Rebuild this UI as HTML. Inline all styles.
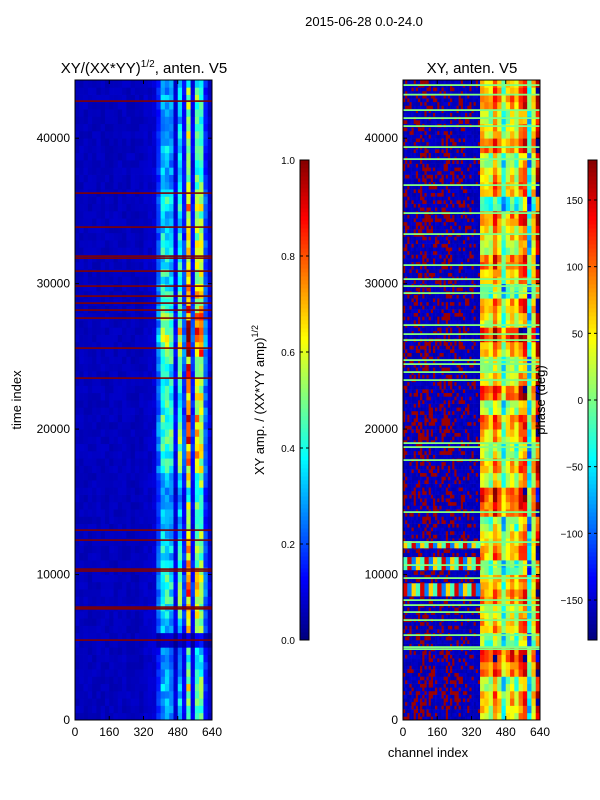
<!DOCTYPE html>
<html><head><meta charset="utf-8"><style>
body{margin:0;background:#fff;}
svg{display:block;font-family:"Liberation Sans",sans-serif;}
</style></head><body>
<svg id="fig" width="600" height="800" viewBox="0 0 600 800">
<rect width="600" height="800" fill="#fff"/>
<text x="364" y="26" font-size="13" text-anchor="middle">2015-06-28 0.0-24.0</text>
<text x="144" y="73" font-size="15" text-anchor="middle">XY/(XX*YY)<tspan font-size="10" dy="-6">1/2</tspan><tspan dy="6">, anten. V5</tspan></text>
<text x="472" y="73" font-size="15" text-anchor="middle">XY, anten. V5</text>
<g id="left"></g>
<g id="right"></g>
<g id="axes"></g>
<text transform="translate(21,400) rotate(-90)" font-size="13" text-anchor="middle">time index</text>
<text x="428" y="757" font-size="13" text-anchor="middle">channel index</text>
<text transform="translate(264,400) rotate(-90)" font-size="13" text-anchor="middle">XY amp. / (XX*YY amp)<tspan font-size="9" dy="-6">1/2</tspan></text>
<text transform="translate(545,400) rotate(-90)" font-size="13" text-anchor="middle">phase (deg)</text>
</svg>
<script>
const NS="http://www.w3.org/2000/svg";
// ---- data ----
const xTicks=[0,160,320,480,640];
const yTicks=[0,10000,20000,30000,40000];
const ampTicks=[0.0,0.2,0.4,0.6,0.8,1.0];
const phaseTicks=[-150,-100,-50,0,50,100,150];
// left: per-1000 time activity (t=0..43000)
const ampRowAct=[0.5,0.55,0.6,0.5,0.45,0.15,0.6,0.7,0.75,0.8,0.7,0.65,0.6,0.5,0.55,0.45,0.6,0.75,0.8,0.85,0.8,0.75,0.7,0.75,0.8,0.95,1.0,0.85,0.8,0.75,0.7,0.65,0.7,0.65,0.6,0.7,0.6,0.55,0.5,0.6,0.55,0.5,0.6,0.5];
// left: column profile, 20 channels each (32 cols)
const ampColProf=[0.06,0.06,0.06,0.06,0.06,0.06,0.06,0.06,0.06,0.06,0.06,0.06,0.06,0.06,0.06,0.06,0.07,0.07,0.08,0.3,0.55,0.55,0.5,0.15,0.6,0.25,0.95,0.2,0.8,0.8,0.3,0.12];
// left: red flag stripes (time index)
const ampStripes=[42556,36231,33894,31900,31762,30869,29838,29150,28669,28188,27638,25575,23512,13062,12375,10381,10250,7769,7650,5500];
// right: phase of right part per column (ch 360..640, 14 cols)
const phaseColBase=[60,40,20,90,50,-30,30,60,20,80,100,-60,40,150];
// right: per-1000 row shift
const phaseRowShift=[0,20,-30,45,75,-50,15,-20,35,10,-60,30,5,-40,50,70,-15,25,-45,10,40,-25,60,0,-35,20,80,-10,30,-55,15,45,-20,5,35,-75,25,0,-30,55,10,-15,40,20];
// right: red speckle fraction per column (ch 0..360, 36 cols of 10)
const phaseRedFrac=[0.3,0.3,0.25,0.2,0.2,0.25,0.3,0.35,0.4,0.45,0.45,0.4,0.35,0.3,0.25,0.2,0.2,0.25,0.3,0.35,0.4,0.35,0.3,0.25,0.2,0.25,0.3,0.3,0.25,0.2,0.2,0.2,0.15,0.15,0.1,0.1];
// right: green (zero-phase) stripes
const phaseStripes=[43656,43000,41937,41387,40837,39393,38568,36781,34856,33412,31281,30318,29837,29356,27156,26537,26125,24750,24475,23925,23375,19043,18768,17875,14300,12237,10656,9762,8250,7906,7425,6875,5843,5018,4881];
// right: full-width colored bands (time start, end)
const phaseBandStart=[11800,10300,8500];
const phaseBandEnd=[12300,11200,9400];
// ---- scales ----
const T0=0,T1=44000,Y0=720,Y1=80;
const yS=t=>Y0-(t-T0)/(T1-T0)*(Y0-Y1);
const xL=c=>75+c/640*137, xR=c=>403+c/640*137;
function jet(v){v=Math.max(0,Math.min(1,v));
 const f=x=>Math.max(0,Math.min(1,x));
 const r=f(1.5-Math.abs(4*v-3)),g=f(1.5-Math.abs(4*v-2)),b=f(1.5-Math.abs(4*v-1));
 return `rgb(${Math.round(r*255)},${Math.round(g*255)},${Math.round(b*255)})`;}
function h(a,b){let x=Math.sin(a*12.9898+b*78.233)*43758.5453;return x-Math.floor(x);}
function rect(g,x,y,w,hh,fill,name){const r=document.createElementNS(NS,'rect');
 r.setAttribute('x',x);r.setAttribute('y',y);r.setAttribute('width',w);r.setAttribute('height',hh);r.setAttribute('fill',fill);
 
 
 g.appendChild(r);return r;}
const L=document.getElementById('left'),R=document.getElementById('right');
const dt=500;
// left heatmap
for(let i=0;i<88;i++){const t=i*dt,act=ampRowAct[Math.floor(i/2)];
 for(let c=0;c<ampColProf.length;c++){const p=ampColProf[c];
  let v=c<19?p+0.03*(h(i,c)-0.5):p*act*(0.75+0.5*h(i,c));
  rect(L,xL(c*20),yS(t+dt),xL(20)-xL(0)+0.4,yS(t)-yS(t+dt)+0.4,jet(v),'amp-cell');}}
for(const s of ampStripes){rect(L,xL(0),yS(s)-0.7,137,1.6,jet(1.0),'amp-flag-stripe');}
// right heatmap
const ph=v=>jet((v+180)/360);
const dt2=250;
for(let i=0;i<176;i++){const t=i*dt2;
 for(let c=0;c<36;c++){const q=phaseRedFrac[c];const col=h(i,c)<q?ph(170):ph(-165+15*h(c,i));
  rect(R,xR(c*10),yS(t+dt2),xR(10)-xR(0)+0.3,yS(t)-yS(t+dt2)+0.3,col,'phase-cell');}}
for(let i=0;i<88;i++){const t=i*dt,sh=phaseRowShift[Math.floor(i/2)];
 for(let c=0;c<14;c++){let v=phaseColBase[c]+sh+50*(h(i,c)-0.5);v=((v+180)%360+360)%360-180;
  rect(R,xR(360+c*20),yS(t+dt),xR(20)-xR(0)+0.4,yS(t)-yS(t+dt)+0.4,ph(v),'phase-cell');}}
for(let k=0;k<phaseBandStart.length;k++){const a=phaseBandStart[k],b=phaseBandEnd[k];
 for(let c=0;c<18;c++){const v=[60,-20,150,-90][ (c+k)%4 ];
  rect(R,xR(c*20),yS(b),xR(20)-xR(0)+0.4,yS(a)-yS(b),ph(v),'phase-band-cell');}}
for(const s of phaseStripes){rect(R,xR(0),yS(s)-0.8,137,1.8,ph(0),'phase-zero-stripe');}
// axes
const A=document.getElementById('axes');
function line(x1,y1,x2,y2,name){const l=document.createElementNS(NS,'line');
 l.setAttribute('x1',x1);l.setAttribute('y1',y1);l.setAttribute('x2',x2);l.setAttribute('y2',y2);l.setAttribute('stroke','#000');l.setAttribute('stroke-width',1);
 
 
 A.appendChild(l);}
function txt(x,y,s,anchor,name,fs){const t=document.createElementNS(NS,'text');
 t.setAttribute('x',x);t.setAttribute('y',y);t.setAttribute('font-size',fs||12);t.setAttribute('text-anchor',anchor);t.textContent=s;
 
 
 A.appendChild(t);}
for(const [x0,xs,nm] of [[75,xL,'left'],[403,xR,'right']]){
 const fr=document.createElementNS(NS,'rect');
 fr.setAttribute('x',x0);fr.setAttribute('y',80);fr.setAttribute('width',137);fr.setAttribute('height',640);fr.setAttribute('fill','none');fr.setAttribute('stroke','#000');
 
 
 A.appendChild(fr);
 for(const v of xTicks){const x=xs(v);line(x,720,x,716,nm+'-x-tick');line(x,80,x,84,nm+'-x-tick');txt(x,736,String(v),'middle',nm+'-x-tick-label');}
 for(const v of yTicks){const y=yS(v);line(x0,y,x0+4,y,nm+'-y-tick');line(x0+137,y,x0+133,y,nm+'-y-tick');txt(x0-5,y+4,String(v),'end',nm+'-y-tick-label');}
}
function cbar(x,ticks,lo,hi,fmt,nm){
 for(let i=0;i<120;i++){const v=i/120;rect(A,x,640-(i+1)*4,9,4.4,jet(v),nm+'-colorbar-segment');}
 const fr=document.createElementNS(NS,'rect');
 fr.setAttribute('x',x);fr.setAttribute('y',160);fr.setAttribute('width',9);fr.setAttribute('height',480);fr.setAttribute('fill','none');fr.setAttribute('stroke','#000');
 
 
 A.appendChild(fr);
 for(const v of ticks){const y=640-(v-lo)/(hi-lo)*480;line(x,y,x+3,y,nm+'-colorbar-tick');line(x+9,y,x+6,y,nm+'-colorbar-tick');txt(x-5,y+4,fmt(v),'end',nm+'-colorbar-tick-label',10);}
}
cbar(300,ampTicks,0,1,v=>v.toFixed(1),'amp');
cbar(588,phaseTicks,-180,180,v=>v<0?'\u2212'+(-v):String(v),'phase');
</script>
</body></html>
